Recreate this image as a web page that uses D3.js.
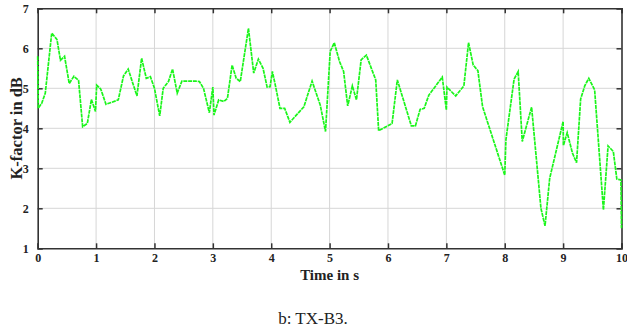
<!DOCTYPE html>
<html><head><meta charset="utf-8">
<script src="https://cdn.jsdelivr.net/npm/d3@7"></script>
<style>body{margin:0;background:#fff}svg{display:block}</style>
</head><body>
<script>
const times = [0,0.01,0.07,0.13,0.24,0.33,0.39,0.46,0.54,0.62,0.70,0.77,0.85,0.92,0.99,1.01,1.08,1.17,1.38,1.47,1.55,1.70,1.78,1.86,1.93,2.0,2.09,2.15,2.24,2.31,2.39,2.47,2.70,2.77,2.84,2.94,2.97,3.0,3.02,3.10,3.19,3.25,3.33,3.40,3.47,3.61,3.70,3.78,3.86,3.93,3.98,4.02,4.07,4.15,4.23,4.32,4.56,4.70,4.84,4.93,5.01,5.08,5.17,5.24,5.31,5.39,5.46,5.54,5.63,5.79,5.84,6.07,6.16,6.30,6.40,6.47,6.55,6.62,6.70,6.93,7.0,7.01,7.16,7.30,7.38,7.46,7.54,7.62,8.0,8.02,8.16,8.23,8.30,8.46,8.62,8.69,8.77,9.0,9.005,9.07,9.16,9.23,9.30,9.37,9.44,9.54,9.69,9.77,9.86,9.92,9.99,10.0];
const kFactor = [5.8,4.5,4.63,4.88,6.38,6.22,5.7,5.8,5.12,5.3,5.2,4.04,4.12,4.72,4.42,5.08,4.98,4.6,4.71,5.31,5.48,4.81,5.75,5.25,5.29,5.0,4.31,5.0,5.17,5.48,4.88,5.18,5.18,5.17,5.0,4.39,4.71,5.03,4.33,4.71,4.67,4.75,5.58,5.25,5.17,6.5,5.38,5.73,5.5,5.03,5.04,5.42,5.08,4.5,4.5,4.15,4.54,5.18,4.58,3.92,5.92,6.14,5.67,5.42,4.56,5.06,4.71,5.71,5.83,5.21,3.94,4.12,5.21,4.54,4.06,4.06,4.47,4.5,4.83,5.28,4.46,5.03,4.81,5.06,6.14,5.58,5.44,4.54,2.83,3.71,5.23,5.42,3.67,4.53,2.0,1.56,2.75,4.17,3.57,3.89,3.38,3.14,4.73,5.06,5.25,4.96,1.96,3.56,3.42,2.73,2.71,1.5];
const xTicks = [0,1,2,3,4,5,6,7,8,9,10];
const yTicks = [1,2,3,4,5,6,7];
const xLabel = "Time in s";
const yLabel = "K-factor in dB";
const caption = "b: TX-B3.";

const W = 627, H = 333;
const m = {l: 37.7, r: 5.5, t: 8.3, b: 84.7};
const svg = d3.select("body").append("svg").attr("width", W).attr("height", H);
const x = d3.scaleLinear().domain([0,10]).range([m.l, W - m.r]);
const y = d3.scaleLinear().domain([1,7]).range([H - m.b, m.t]);
const font = "'Liberation Serif','Times New Roman',serif";

// grid
svg.append("g").selectAll("line").data(xTicks.slice(1,-1)).join("line")
  .attr("x1", d=>x(d)).attr("x2", d=>x(d)).attr("y1", y(1)).attr("y2", y(7))
  .attr("stroke", "#d6d6d6").attr("stroke-width", 1);
svg.append("g").selectAll("line").data(yTicks.slice(1,-1)).join("line")
  .attr("y1", d=>y(d)).attr("y2", d=>y(d)).attr("x1", x(0)).attr("x2", x(10))
  .attr("stroke", "#d6d6d6").attr("stroke-width", 1);

// axes
const axColor = "#333";
const fmt = d3.format("d");
const gBottom = svg.append("g").attr("transform",`translate(0,${y(1)})`)
  .call(d3.axisBottom(x).tickValues(xTicks).tickFormat(fmt).tickSize(-5).tickPadding(9));
const gTop = svg.append("g").attr("transform",`translate(0,${y(7)})`)
  .call(d3.axisTop(x).tickValues(xTicks).tickSize(-5).tickFormat(""));
const gLeft = svg.append("g").attr("transform",`translate(${x(0)},0)`)
  .call(d3.axisLeft(y).tickValues(yTicks).tickFormat(fmt).tickSize(-5).tickPadding(9));
const gRight = svg.append("g").attr("transform",`translate(${x(10)},0)`)
  .call(d3.axisRight(y).tickValues(yTicks).tickSize(-5).tickFormat(""));
[gBottom, gTop, gLeft, gRight].forEach(g=>{
  g.select(".domain").attr("stroke", axColor).attr("stroke-width",1.6);
  g.selectAll(".tick line").attr("stroke", axColor).attr("stroke-width",1.5);
  g.selectAll("text").attr("font-family", font).attr("font-weight","bold")
    .attr("font-size", 12).attr("fill","#222");
});
gBottom.selectAll("text").attr("dy","0.4em");
gLeft.selectAll("text").attr("dy","0.32em");

// line (on top of the frame, as in the original)
const line = d3.line().x((d,i)=>x(times[i])).y(d=>y(d));
svg.append("path").datum(kFactor).attr("d", line)
  .attr("fill","none").attr("stroke","#1af51a").attr("stroke-width",1.7)
  .attr("stroke-dasharray","4,0.8");

svg.append("text").attr("x", (x(0)+x(10))/2).attr("y", 280)
  .attr("text-anchor","middle").attr("font-family",font).attr("font-weight","bold")
  .attr("font-size",15).attr("fill","#222").text(xLabel);
svg.append("text").attr("transform",`translate(22,${(y(1)+y(7))/2}) rotate(-90)`)
  .attr("text-anchor","middle").attr("font-family",font).attr("font-weight","bold")
  .attr("font-size",16.5).attr("fill","#222").text(yLabel);
svg.append("text").attr("x", 313).attr("y", 324)
  .attr("text-anchor","middle").attr("font-family",font)
  .attr("font-size",17).attr("fill","#222").text(caption);
</script>
</body></html>
